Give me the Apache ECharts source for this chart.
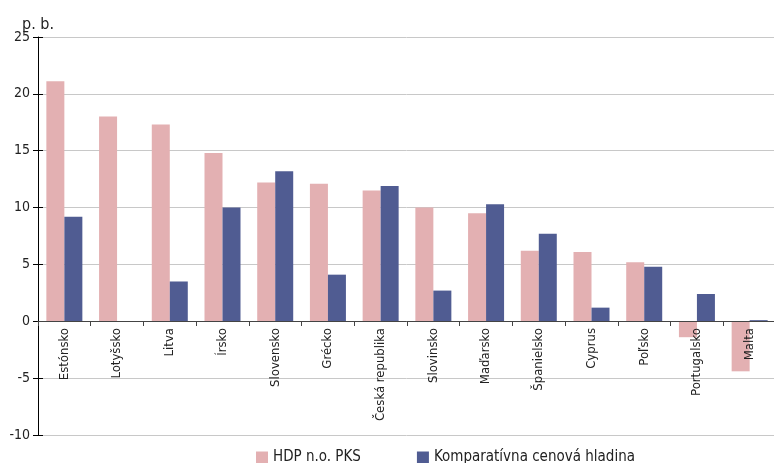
<!DOCTYPE html>
<html>
<head>
<meta charset="utf-8">
<script src="https://cdn.jsdelivr.net/npm/echarts@6/dist/echarts.min.js"></script>
<style>
  html, body { margin: 0; padding: 0; background: #fff; }
</style>
</head>
<body>
<div id="chart" style="width:774px;height:463px;"></div>
<script>
var countries = ['Estónsko', 'Lotyšsko', 'Litva', 'Írsko', 'Slovensko', 'Grécko', 'Česká republika',
  'Slovinsko', 'Maďarsko', 'Španielsko', 'Cyprus', 'Poľsko', 'Portugalsko', 'Malta'];
var hdp = [21.1, 18.0, 17.3, 14.8, 12.2, 12.1, 11.5, 10.0, 9.5, 6.2, 6.1, 5.2, -1.4, -4.4];
var cenova = [9.2, 0, 3.5, 10.0, 13.2, 4.1, 11.9, 2.7, 10.3, 7.7, 1.2, 4.8, 2.4, 0.1];
var seriesNames = ['HDP n.o. PKS', 'Komparatívna cenová hladina'];

var font = '"DejaVu Sans Condensed", "Liberation Sans Narrow", sans-serif';
var chart = echarts.init(document.getElementById('chart'));

var option = {
  animation: false,
  textStyle: { fontFamily: font },
  title: {
    text: 'p. b.',
    left: 17,
    top: 12,
    textStyle: { fontSize: 16, fontWeight: 'normal', color: '#222', fontFamily: font }
  },
  legend: {
    data: seriesNames,
    left: 251,
    top: 445,
    itemWidth: 12,
    itemHeight: 12,
    itemGap: 56,
    icon: 'rect',
    textStyle: { fontSize: 15, color: '#222', fontFamily: font }
  },
  grid: { left: 38, top: 37, width: 738, bottom: 28, outerBoundsMode: 'none' },
  xAxis: {
    type: 'category',
    data: countries,
    position: 'bottom',
    offset: -114,
    z: 5,
    axisLine: { onZero: false, lineStyle: { color: '#444', width: 1 } },
    axisTick: { show: true, length: 5, lineStyle: { color: '#444' } },
    axisLabel: { rotate: 90, margin: 7, fontSize: 13, color: '#222', fontFamily: font }
  },
  yAxis: [{
    type: 'value',
    min: -10,
    max: 25,
    interval: 5,
    axisLine: { show: true, lineStyle: { color: '#000' } },
    axisTick: { show: true, length: 5, lineStyle: { color: '#000' } },
    axisLabel: { fontSize: 14, color: '#222', margin: 8, fontFamily: font },
    splitLine: { lineStyle: { color: '#c8c8c8' } }
  }, {
    type: 'value',
    position: 'left',
    min: -10,
    max: 25,
    interval: 5,
    axisLine: { show: false },
    axisTick: { show: true, inside: true, length: 5, lineStyle: { color: '#000' } },
    axisLabel: { show: false },
    splitLine: { show: false }
  }],
  series: [{
    name: seriesNames[0],
    type: 'bar',
    data: hdp,
    barWidth: 18,
    barGap: '0%',
    itemStyle: { color: '#e3b0b2' }
  }, {
    name: seriesNames[1],
    type: 'bar',
    data: cenova,
    barWidth: 18,
    itemStyle: { color: '#505c92' }
  }]
};
chart.setOption(option);
</script>
</body>
</html>
